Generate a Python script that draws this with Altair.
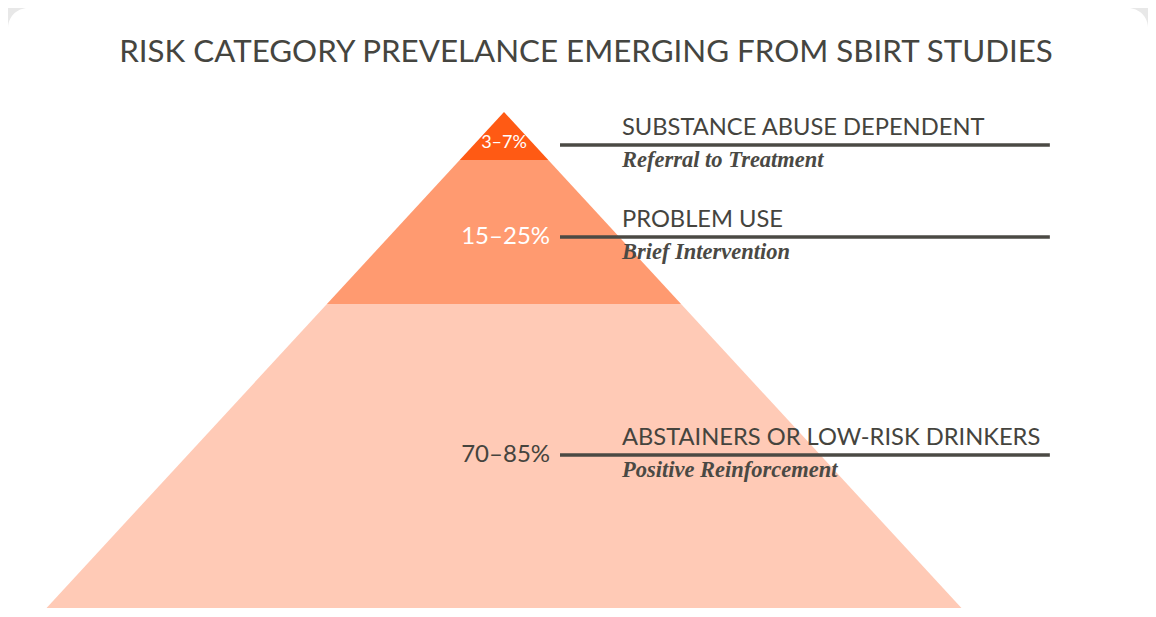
import altair as alt
import pandas as pd

# ---- data ----
tiers = ["SUBSTANCE ABUSE DEPENDENT", "PROBLEM USE", "ABSTAINERS OR LOW-RISK DRINKERS"]
ranges = ["3–7%", "15–25%", "70–85%"]
actions = ["Referral to Treatment", "Brief Intervention", "Positive Reinforcement"]
title_text = "RISK CATEGORY PREVELANCE EMERGING FROM SBIRT STUDIES"

# ---- styles ----
tier_colors = ["#ff5a14", "#ff9a70", "#ffcab6"]
pct_colors = ["#ffffff", "#ffffff", "#45443e"]
TEXT_DARK = "#45443e"

# ---- layout (depth units: apex = 0; pyramid half-width equals depth) ----
tier_top = [0, 1, 4]
tier_bottom = [1, 4, 11]
line_depth = [0.6875, 2.604, 7.146]
PCT_X = 1.04
RULE_X0, RULE_X1 = 1.265, 12.33
CAT_X = 2.665

W, H = 1140, 600
X_DOMAIN = [-496 / 44.27, (W - 496) / 44.27]
Y_DOMAIN = [-104 / 48, (H - 104) / 48]

xs = alt.Scale(domain=X_DOMAIN, nice=False, zero=False)
ys = alt.Scale(domain=Y_DOMAIN, reverse=True, nice=False, zero=False)
cs = alt.Scale(domain=tiers, range=tier_colors)

rows = []
for i, t in enumerate(tiers):
    for d in (tier_top[i], tier_bottom[i]):
        rows.append({"tier": t, "depth": d, "left": -d, "right": d})
pyr = pd.DataFrame(rows)

lab = pd.DataFrame({
    "idx": list(range(len(tiers))),
    "tier": tiers,
    "range": ranges,
    "action": actions,
    "depth": line_depth,
})
lab["x0"] = RULE_X0
lab["x1"] = RULE_X1
lab["catx"] = CAT_X
lab["pctx"] = [0.0] + [PCT_X] * (len(tiers) - 1)

card = alt.Chart(pd.DataFrame({"k": [0]})).mark_rect(
    fill="white", cornerRadius=20
).encode(x=alt.value(0), x2=alt.value(W), y=alt.value(0), y2=alt.value(H + 60))

pyramid = alt.Chart(pyr).mark_area(orient="horizontal", clip=True, interpolate="linear").encode(
    y=alt.Y("depth:Q", scale=ys, axis=None),
    x=alt.X("left:Q", scale=xs, axis=None, stack=None),
    x2="right:Q",
    color=alt.Color("tier:N", scale=cs, legend=None),
)

rules = alt.Chart(lab).mark_rule(strokeWidth=3.5, color="#4b4a44").encode(
    y=alt.Y("depth:Q", scale=ys, axis=None),
    x=alt.X("x0:Q", scale=xs, axis=None),
    x2="x1:Q",
)

cats = alt.Chart(lab).mark_text(
    align="left", baseline="middle", dy=-17, font="Lato", fontSize=23.7, color=TEXT_DARK
).encode(
    y=alt.Y("depth:Q", scale=ys, axis=None),
    x=alt.X("catx:Q", scale=xs, axis=None),
    text="tier:N",
)

acts = alt.Chart(lab).mark_text(
    align="left", baseline="middle", dy=15, font="Liberation Serif",
    fontStyle="italic", fontWeight="bold", fontSize=22.5, color="#4a4944"
).encode(
    y=alt.Y("depth:Q", scale=ys, axis=None),
    x=alt.X("catx:Q", scale=xs, axis=None),
    text="action:N",
)

pct_top = alt.Chart(lab).transform_filter("datum.idx == 0").mark_text(
    align="center", baseline="middle", dy=-2, font="Lato", fontSize=18, color=pct_colors[0]
).encode(
    y=alt.Y("depth:Q", scale=ys, axis=None),
    x=alt.X("pctx:Q", scale=xs, axis=None),
    text="range:N",
)

pct_rest = alt.Chart(lab).transform_filter("datum.idx > 0").mark_text(
    align="right", baseline="middle", font="Lato", fontSize=24
).encode(
    y=alt.Y("depth:Q", scale=ys, axis=None),
    x=alt.X("pctx:Q", scale=xs, axis=None),
    text="range:N",
    color=alt.Color("tier:N", scale=alt.Scale(domain=tiers, range=pct_colors), legend=None),
)

title = alt.Chart(pd.DataFrame({"t": [title_text]})).mark_text(
    align="center", baseline="middle", font="Lato", fontSize=31.3, color="#454540"
).encode(x=alt.value(578), y=alt.value(45), text="t:N")

chart = alt.layer(card, pyramid, rules, cats, acts, pct_top, pct_rest, title).resolve_scale(
    color="independent"
).properties(
    width=W, height=H, autosize=alt.AutoSizeParams(type="none"), padding=0,
    background="#e8e8e8",
).configure_view(stroke=None)

chart.save("out.html", embed_options={"renderer": "svg", "actions": False})
